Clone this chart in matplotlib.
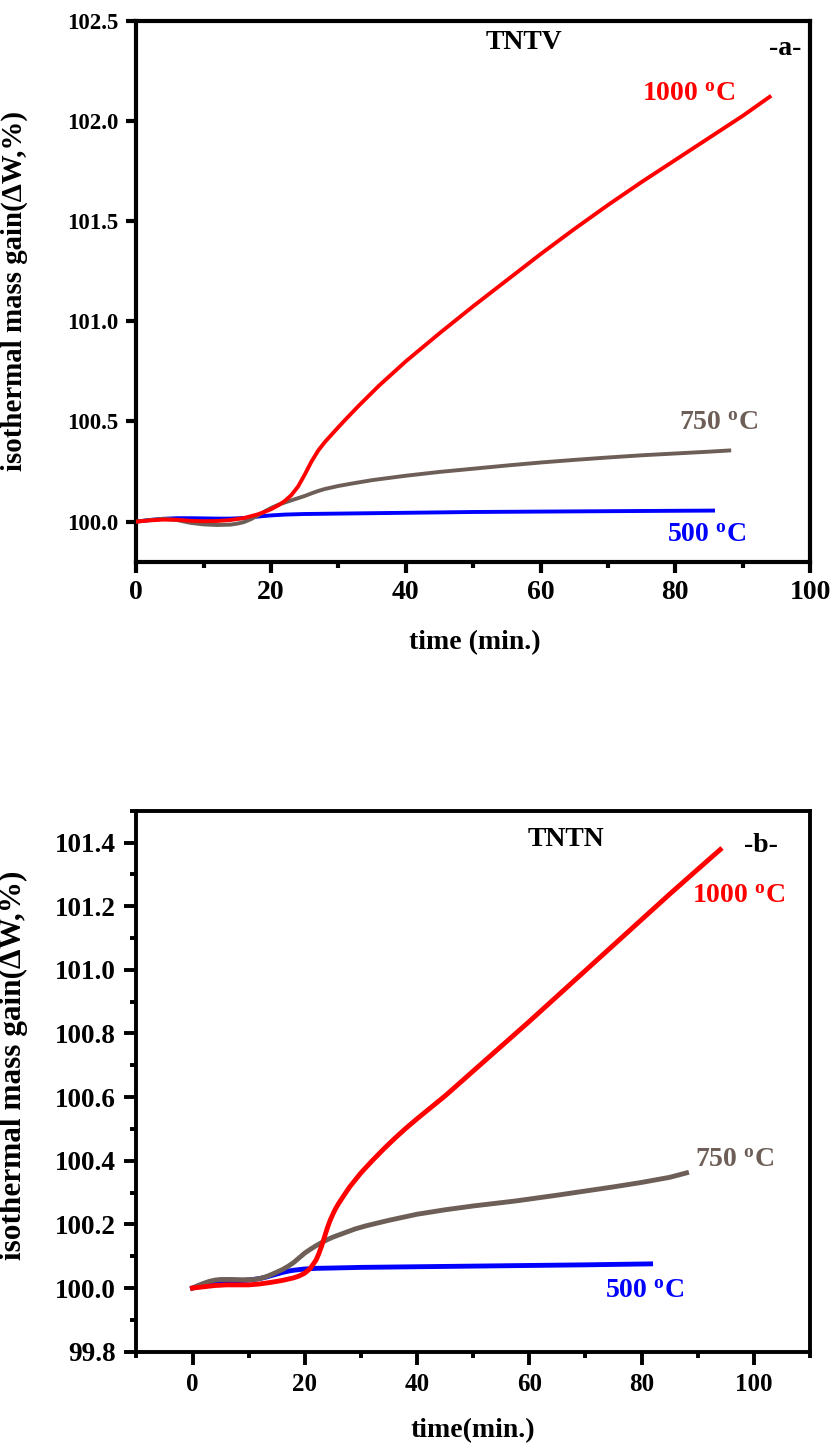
import matplotlib
matplotlib.use("Agg")
import matplotlib.pyplot as plt
from matplotlib.ticker import MultipleLocator, FormatStrFormatter

plt.rcParams['font.family'] = ['Liberation Serif', 'DejaVu Serif']
plt.rcParams['font.weight'] = 'bold'
plt.rcParams['mathtext.fontset'] = 'custom'
plt.rcParams['mathtext.rm'] = 'Liberation Serif:bold'
plt.rcParams['mathtext.bf'] = 'Liberation Serif:bold'
plt.rcParams['mathtext.it'] = 'Liberation Serif:bold'

# ---- TNTV (panel a) ----
a_t_1000 = [0, 2, 4, 6, 8, 10, 12, 14, 16, 18, 19, 20, 21, 22, 23, 24, 25, 26, 27,
            28, 29, 30, 31, 33, 36, 40, 45, 50, 55, 60, 65, 70, 75, 80, 85, 90, 94]
a_w_1000 = [100.000, 100.006, 100.010, 100.009, 100.004, 100.002, 100.003, 100.008,
            100.018, 100.036, 100.048, 100.062, 100.080, 100.102, 100.132, 100.175,
            100.235, 100.300, 100.355, 100.398, 100.435, 100.472, 100.508, 100.578,
            100.678, 100.800, 100.940, 101.075, 101.205, 101.335, 101.460, 101.580,
            101.695, 101.805, 101.915, 102.025, 102.120]

a_t_750 = [0, 2, 4, 6, 8, 10, 12, 14, 15, 16, 17, 18, 19, 20, 21, 22, 23, 24, 25,
           26, 27, 28, 30, 32, 35, 40, 45, 50, 55, 60, 65, 70, 75, 80, 85, 88]
a_w_750 = [100.000, 100.008, 100.014, 100.008, 99.994, 99.986, 99.983, 99.985,
           99.990, 99.998, 100.012, 100.030, 100.050, 100.068, 100.083, 100.095,
           100.106, 100.117, 100.128, 100.141, 100.153, 100.163, 100.178, 100.190,
           100.207, 100.229, 100.248, 100.264, 100.280, 100.295, 100.308, 100.320,
           100.331, 100.340, 100.349, 100.355]

a_t_500 = [0, 2, 4, 6, 8, 10, 12, 14, 16, 18, 20, 22, 25, 30, 40, 50, 60, 70, 80, 85.6]
a_w_500 = [100.000, 100.008, 100.014, 100.017, 100.017, 100.016, 100.015, 100.015,
           100.018, 100.025, 100.031, 100.035, 100.038, 100.040, 100.044, 100.048,
           100.050, 100.052, 100.054, 100.055]

# ---- TNTN (panel b) ----
b_t_1000 = [0, 2, 4, 6, 8, 10, 12, 14, 16, 18, 19, 20, 21, 22, 22.5, 23, 23.5, 24,
            24.5, 25, 25.5, 26, 27, 28, 29, 30, 32, 34, 36, 38, 40, 45, 50, 55, 60,
            65, 70, 75, 80, 85, 90, 94]
b_w_1000 = [100.000, 100.004, 100.008, 100.010, 100.010, 100.010, 100.013, 100.018,
            100.024, 100.032, 100.038, 100.047, 100.062, 100.088, 100.108, 100.132,
            100.160, 100.188, 100.212, 100.232, 100.250, 100.265, 100.292, 100.318,
            100.340, 100.362, 100.400, 100.436, 100.470, 100.502, 100.532, 100.604,
            100.682, 100.760, 100.838, 100.918, 100.998, 101.078, 101.158, 101.238,
            101.316, 101.378]

b_t_750 = [0, 1, 2, 3, 4, 5, 7, 9, 11, 12, 13, 14, 15, 16, 17, 18, 19, 20, 21, 22,
           23, 24, 25, 27, 29, 31, 35, 40, 45, 50, 57.7, 65, 70, 75, 80, 85, 88]
b_w_750 = [100.000, 100.008, 100.015, 100.021, 100.025, 100.027, 100.027, 100.026,
           100.027, 100.030, 100.035, 100.042, 100.050, 100.058, 100.068, 100.080,
           100.095, 100.110, 100.122, 100.133, 100.143, 100.152, 100.160, 100.173,
           100.186, 100.196, 100.213, 100.232, 100.246, 100.258, 100.274, 100.292,
           100.305, 100.318, 100.332, 100.348, 100.362]

b_t_500 = [0, 2, 4, 6, 8, 10, 12, 13, 14, 15, 16, 17, 18, 19, 20, 22, 25, 30, 40,
           50, 60, 70, 81.6]
b_w_500 = [100.000, 100.012, 100.018, 100.021, 100.023, 100.025, 100.030, 100.034,
           100.039, 100.044, 100.049, 100.053, 100.056, 100.058, 100.060, 100.062,
           100.063, 100.065, 100.067, 100.069, 100.071, 100.073, 100.076]

RED = '#ff0000'
BLUE = '#0000ff'
BROWN = '#6d5f57'
deg = r'$^{\mathbf{o}}$C'

fig = plt.figure(figsize=(8.34, 14.48), dpi=100)
ax1 = fig.add_axes([0.1635, 0.6121, 0.8078, 0.3736])
ax2 = fig.add_axes([0.1635, 0.0665, 0.8078, 0.3736])

# panel a
ax1.plot(a_t_500, a_w_500, color=BLUE, lw=2.8, zorder=2, solid_joinstyle='round')
ax1.plot(a_t_750, a_w_750, color=BROWN, lw=2.8, zorder=3, solid_joinstyle='round')
ax1.plot(a_t_1000, a_w_1000, color=RED, lw=2.8, zorder=4, solid_joinstyle='round')
ax1.set_xlim(0, 100)
ax1.set_ylim(99.8, 102.5)
ax1.xaxis.set_major_locator(MultipleLocator(20))
ax1.xaxis.set_minor_locator(MultipleLocator(10))
ax1.yaxis.set_major_locator(MultipleLocator(0.5))
ax1.yaxis.set_major_formatter(FormatStrFormatter('%.1f'))
ax1.tick_params(axis='x', which='major', direction='out', length=8, width=3,
                labelsize=20, pad=5)
ax1.tick_params(axis='x', which='minor', direction='out', length=4, width=3)
ax1.tick_params(axis='y', which='major', direction='out', length=7, width=3,
                labelsize=16.5, pad=6)
for s in ax1.spines.values():
    s.set_linewidth(3)
ax1.set_xlabel('time (min.)', fontsize=20, fontweight='bold')
ax1.set_ylabel('isothermal mass gain(\u0394W,%)', fontsize=20.8, fontweight='bold')
ax1.xaxis.set_label_coords(0.502, -0.127)
ax1.yaxis.set_label_coords(-0.161, 0.5)
ax1.text(57.5, 102.39, 'TNTV', fontsize=20, fontweight='bold', ha='center', va='center')
ax1.text(96.3, 102.36, '-a-', fontsize=20, fontweight='bold', ha='center', va='center')
ax1.text(82.0, 102.13, '1000 ' + deg, color=RED, fontsize=20, fontweight='bold',
         ha='center', va='center')
ax1.text(86.4, 100.49, '750 ' + deg, color=BROWN, fontsize=20, fontweight='bold',
         ha='center', va='center')
ax1.text(84.6, 99.93, '500 ' + deg, color=BLUE, fontsize=20, fontweight='bold',
         ha='center', va='center')

# panel b
ax2.plot(b_t_500, b_w_500, color=BLUE, lw=3.5, zorder=2, solid_joinstyle='round')
ax2.plot(b_t_750, b_w_750, color=BROWN, lw=3.5, zorder=3, solid_joinstyle='round')
ax2.plot(b_t_1000, b_w_1000, color=RED, lw=3.5, zorder=4, solid_joinstyle='round')
ax2.set_xlim(-10, 110)
ax2.set_ylim(99.8, 101.5)
ax2.xaxis.set_major_locator(MultipleLocator(20))
ax2.xaxis.set_minor_locator(MultipleLocator(10))
ax2.yaxis.set_major_locator(MultipleLocator(0.2))
ax2.yaxis.set_minor_locator(MultipleLocator(0.1))
ax2.yaxis.set_major_formatter(FormatStrFormatter('%.1f'))
ax2.tick_params(axis='both', which='major', direction='out', length=9, width=2.8,
                pad=6)
ax2.tick_params(axis='both', which='minor', direction='out', length=4, width=2.8)
ax2.tick_params(axis='x', which='major', labelsize=18)
ax2.tick_params(axis='y', which='major', labelsize=19.5)
for s in ax2.spines.values():
    s.set_linewidth(2.8)
ax2.set_xlabel('time(min.)', fontsize=20, fontweight='bold')
ax2.set_ylabel('isothermal mass gain(\u0394W,%)', fontsize=22.5, fontweight='bold')
ax2.xaxis.set_label_coords(0.5, -0.122)
ax2.yaxis.set_label_coords(-0.161, 0.53)
ax2.text(66.6, 101.41, 'TNTN', fontsize=20, fontweight='bold', ha='center', va='center')
ax2.text(101.3, 101.39, '-b-', fontsize=20, fontweight='bold', ha='center', va='center')
ax2.text(97.2, 101.23, '1000 ' + deg, color=RED, fontsize=20, fontweight='bold',
         ha='center', va='center')
ax2.text(96.6, 100.40, '750 ' + deg, color=BROWN, fontsize=20, fontweight='bold',
         ha='center', va='center')
ax2.text(80.6, 99.99, '500 ' + deg, color=BLUE, fontsize=20, fontweight='bold',
         ha='center', va='center')

fig.savefig('out.png', dpi=100)
